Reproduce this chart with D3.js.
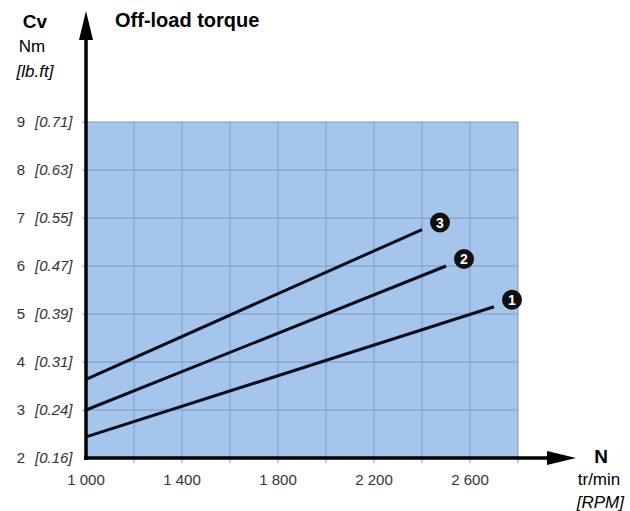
<!DOCTYPE html>
<html>
<head>
<meta charset="utf-8">
<script src="https://cdn.jsdelivr.net/npm/d3@7"></script>
<style>
  body { margin: 0; background: #fff; }
  svg { font-family: "Liberation Sans", Arial, sans-serif; }
</style>
</head>
<body>
<svg width="630" height="511"></svg>
<script>
// ticks
var xTicks = [1000, 1400, 1800, 2200, 2600];
var xTickLabels = ["1 000", "1 400", "1 800", "2 200", "2 600"];
var yTicks = [2, 3, 4, 5, 6, 7, 8, 9];
var yTickLbft = ["[0.16]", "[0.24]", "[0.31]", "[0.39]", "[0.47]", "[0.55]", "[0.63]", "[0.71]"];

// curves (N in rpm, torque in Nm)
var curveIds = ["1", "2", "3"];
var curveStart = [[1000, 2.44], [1000, 3.0], [1000, 3.64]];
var curveEnd = [[2700, 5.15], [2500, 6.0], [2400, 6.76]];

var svg = d3.select("svg");

var x = d3.scaleLinear().domain([1000, 2800]).range([86, 518]);
var y = d3.scaleLinear().domain([2, 9]).range([458, 122]);

// blue plot area
svg.append("rect")
   .attr("x", x(1000)).attr("y", y(9))
   .attr("width", x(2800) - x(1000)).attr("height", y(2) - y(9))
   .attr("fill", "#a5c5ec");

// grid
var gridX = d3.range(1200, 2801, 200);
svg.append("g").selectAll("line").data(gridX).enter().append("line")
   .attr("x1", d => x(d)).attr("x2", d => x(d))
   .attr("y1", y(9)).attr("y2", y(2) + 5)
   .attr("stroke", "#7a98c6").attr("stroke-width", 1);

svg.append("g").selectAll("line").data(yTicks.slice(1)).enter().append("line")
   .attr("x1", x(1000) - 4).attr("x2", x(2800))
   .attr("y1", d => y(d)).attr("y2", d => y(d))
   .attr("stroke", "#7a98c6").attr("stroke-width", 1);

// y tick labels
var yl = svg.append("g");
yl.selectAll(".nm").data(yTicks).enter().append("text")
  .attr("x", 21).attr("y", d => y(d) + 5)
  .attr("text-anchor", "middle")
  .attr("font-size", 15).attr("fill", "#333")
  .text(d => d);
yl.selectAll(".lb").data(yTicks).enter().append("text")
  .attr("x", 35).attr("y", d => y(d) + 5)
  .attr("font-size", 15).attr("font-style", "italic").attr("fill", "#333")
  .text((d, i) => yTickLbft[i]);

// x tick labels
svg.append("g").selectAll("text").data(xTicks).enter().append("text")
   .attr("x", d => x(d)).attr("y", 485)
   .attr("text-anchor", "middle")
   .attr("font-size", 15).attr("fill", "#333")
   .text((d, i) => xTickLabels[i]);

// curves
var line = d3.line().x(d => x(d[0])).y(d => y(d[1]));
curveIds.forEach(function(id, i) {
    svg.append("path")
       .attr("d", line([curveStart[i], curveEnd[i]]))
       .attr("stroke", "#0d0d1a").attr("stroke-width", 3)
       .attr("fill", "none");
    var ex = x(curveEnd[i][0]) + 18, ey = y(curveEnd[i][1]) - 7;
    svg.append("circle").attr("cx", ex).attr("cy", ey).attr("r", 10).attr("fill", "#111");
    svg.append("text").attr("x", ex).attr("y", ey + 5)
       .attr("text-anchor", "middle").attr("font-size", 14).attr("font-weight", "bold")
       .attr("fill", "#fff").text(id);
});

// axes with arrows
svg.append("line").attr("x1", x(1000)).attr("x2", x(1000))
   .attr("y1", y(2) + 2).attr("y2", 30)
   .attr("stroke", "#000").attr("stroke-width", 3.5);
svg.append("path").attr("d", "M86,11 L79,40 L93,40 Z").attr("fill", "#000");

svg.append("line").attr("x1", x(1000) - 2).attr("x2", 555)
   .attr("y1", y(2)).attr("y2", y(2))
   .attr("stroke", "#000").attr("stroke-width", 3.5);
svg.append("path").attr("d", "M576,458 L547,451 L547,465 Z").attr("fill", "#000");

// axis titles
svg.append("text").attr("x", 35).attr("y", 28).attr("text-anchor", "middle")
   .attr("font-size", 19).attr("font-weight", "bold").text("Cv");
svg.append("text").attr("x", 32).attr("y", 52).attr("text-anchor", "middle")
   .attr("font-size", 17).text("Nm");
svg.append("text").attr("x", 35).attr("y", 77).attr("text-anchor", "middle")
   .attr("font-size", 17).attr("font-style", "italic").text("[lb.ft]");

svg.append("text").attr("x", 115).attr("y", 27)
   .attr("font-size", 20).attr("font-weight", "bold").text("Off-load torque");

svg.append("text").attr("x", 601).attr("y", 463).attr("text-anchor", "middle")
   .attr("font-size", 19).attr("font-weight", "bold").text("N");
svg.append("text").attr("x", 599).attr("y", 485).attr("text-anchor", "middle")
   .attr("font-size", 17).text("tr/min");
svg.append("text").attr("x", 624).attr("y", 508).attr("text-anchor", "end")
   .attr("font-size", 17).attr("font-style", "italic").text("[RPM]");
</script>
</body>
</html>
